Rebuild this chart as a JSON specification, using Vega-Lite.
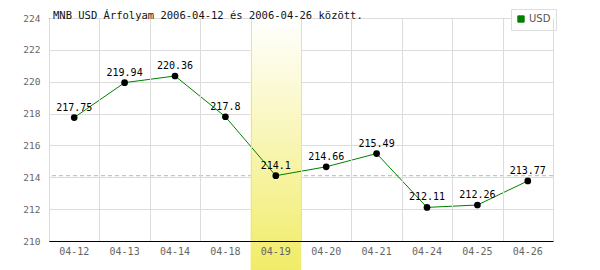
{
  "$schema": "https://vega.github.io/schema/vega-lite/v6.json",
  "width": 504,
  "height": 223,
  "autosize": {"type": "none"},
  "padding": {"left": 49, "top": 18, "right": 47, "bottom": 29},
  "background": "white",
  "title": {
    "text": "MNB USD Árfolyam 2006-04-12 és 2006-04-26 között.",
    "anchor": "start",
    "frame": "group",
    "font": "DejaVu Sans Mono",
    "fontSize": 10.5,
    "fontWeight": "normal",
    "color": "#111",
    "baseline": "alphabetic",
    "offset": 1,
    "dx": 4,
    "dy": 22
  },
  "config": {
    "view": {"stroke": null},
    "axis": {"gridColor": "#dcdcdc", "gridWidth": 1},
    "axisY": {
      "title": null,
      "grid": true,
      "ticks": false,
      "labelOverlap": false,
      "domainColor": "#000",
      "domainWidth": 1,
      "labelFont": "DejaVu Sans Mono",
      "labelFontSize": 9.5,
      "labelColor": "#666",
      "labelPadding": 9,
      "zindex": 0
    }
  },
  "datasets": {
    "rates": [
      {"date": "04-12", "rate": 217.75, "currency": "USD"},
      {"date": "04-13", "rate": 219.94, "currency": "USD"},
      {"date": "04-14", "rate": 220.36, "currency": "USD"},
      {"date": "04-18", "rate": 217.8, "currency": "USD"},
      {"date": "04-19", "rate": 214.1, "currency": "USD"},
      {"date": "04-20", "rate": 214.66, "currency": "USD"},
      {"date": "04-21", "rate": 215.49, "currency": "USD"},
      {"date": "04-24", "rate": 212.11, "currency": "USD"},
      {"date": "04-25", "rate": 212.26, "currency": "USD"},
      {"date": "04-26", "rate": 213.77, "currency": "USD"}
    ],
    "highlight": [
      {"date": "04-19", "top": 224, "bottom": 208.18}
    ],
    "ref": [
      {"rate": 214.1}
    ]
  },
  "resolve": {"axis": {"x": "independent"}},
  "layer": [
    {
      "data": {"name": "ref"},
      "mark": {"type": "rule", "color": "#99cc99", "strokeDash": [4, 3], "strokeWidth": 1},
      "encoding": {
        "y": {
          "field": "rate",
          "type": "quantitative",
          "scale": {"domain": [210, 224], "nice": false, "zero": false},
          "axis": {"values": [210, 212, 214, 216, 218, 220, 222, 224]}
        }
      }
    },
    {
      "data": {"name": "highlight"},
      "mark": {
        "type": "rect",
        "clip": false,
        "color": {
          "gradient": "linear",
          "x1": 0, "y1": 0, "x2": 0, "y2": 1,
          "stops": [
            {"offset": 0, "color": "#ffffff"},
            {"offset": 1, "color": "#f1ec68"}
          ]
        }
      },
      "encoding": {
        "x": {
          "field": "date",
          "type": "nominal",
          "sort": null,
          "scale": {
            "type": "band",
            "paddingInner": 0,
            "paddingOuter": 0,
            "domain": ["04-12", "04-13", "04-14", "04-18", "04-19", "04-20", "04-21", "04-24", "04-25", "04-26"]
          },
          "axis": {
            "orient": "top",
            "title": null,
            "grid": true,
            "tickBand": "extent",
            "ticks": false,
            "labels": false,
            "domain": false,
            "zindex": 1
          }
        },
        "y": {"field": "top", "type": "quantitative", "axis": {"values": [210, 212, 214, 216, 218, 220, 222, 224]}},
        "y2": {"field": "bottom"}
      }
    },
    {
      "data": {"name": "rates"},
      "mark": {"type": "line", "strokeWidth": 1},
      "encoding": {
        "x": {
          "field": "date",
          "type": "nominal",
          "sort": null,
          "axis": {
            "orient": "bottom",
            "title": null,
            "grid": false,
            "ticks": false,
            "labelAngle": 0,
            "domainColor": "#000",
            "domainWidth": 1,
            "labelFont": "DejaVu Sans Mono",
            "labelFontSize": 10,
            "labelColor": "#666",
            "labelPadding": 5,
            "zindex": 1
          }
        },
        "y": {"field": "rate", "type": "quantitative", "axis": {"values": [210, 212, 214, 216, 218, 220, 222, 224]}},
        "color": {
          "field": "currency",
          "type": "nominal",
          "scale": {"domain": ["USD"], "range": ["#008000"]},
          "legend": {
            "title": null,
            "orient": "none",
            "legendX": 462,
            "legendY": -9,
            "symbolType": "square",
            "symbolSize": 40,
            "symbolStrokeWidth": 1,
            "labelFont": "DejaVu Sans",
            "labelFontSize": 10,
            "labelColor": "#555",
            "labelOffset": 3,
            "padding": 5,
            "strokeColor": "#dddddd",
            "fillColor": "white",
            "encode": {
              "symbols": {"update": {"fill": {"value": "#008000"}, "stroke": {"value": "#555"}}}
            }
          }
        }
      }
    },
    {
      "data": {"name": "rates"},
      "mark": {"type": "point", "filled": true, "color": "#000", "opacity": 1, "size": 45},
      "encoding": {
        "x": {"field": "date", "type": "nominal", "sort": null, "axis": null},
        "y": {"field": "rate", "type": "quantitative", "axis": {"values": [210, 212, 214, 216, 218, 220, 222, 224]}}
      }
    },
    {
      "data": {"name": "rates"},
      "mark": {"type": "text", "font": "DejaVu Sans Mono", "fontSize": 10, "color": "#000", "baseline": "alphabetic", "dy": -7},
      "encoding": {
        "x": {"field": "date", "type": "nominal", "sort": null, "axis": null},
        "y": {"field": "rate", "type": "quantitative", "axis": {"values": [210, 212, 214, 216, 218, 220, 222, 224]}},
        "text": {"field": "rate", "type": "quantitative"}
      }
    }
  ]
}
